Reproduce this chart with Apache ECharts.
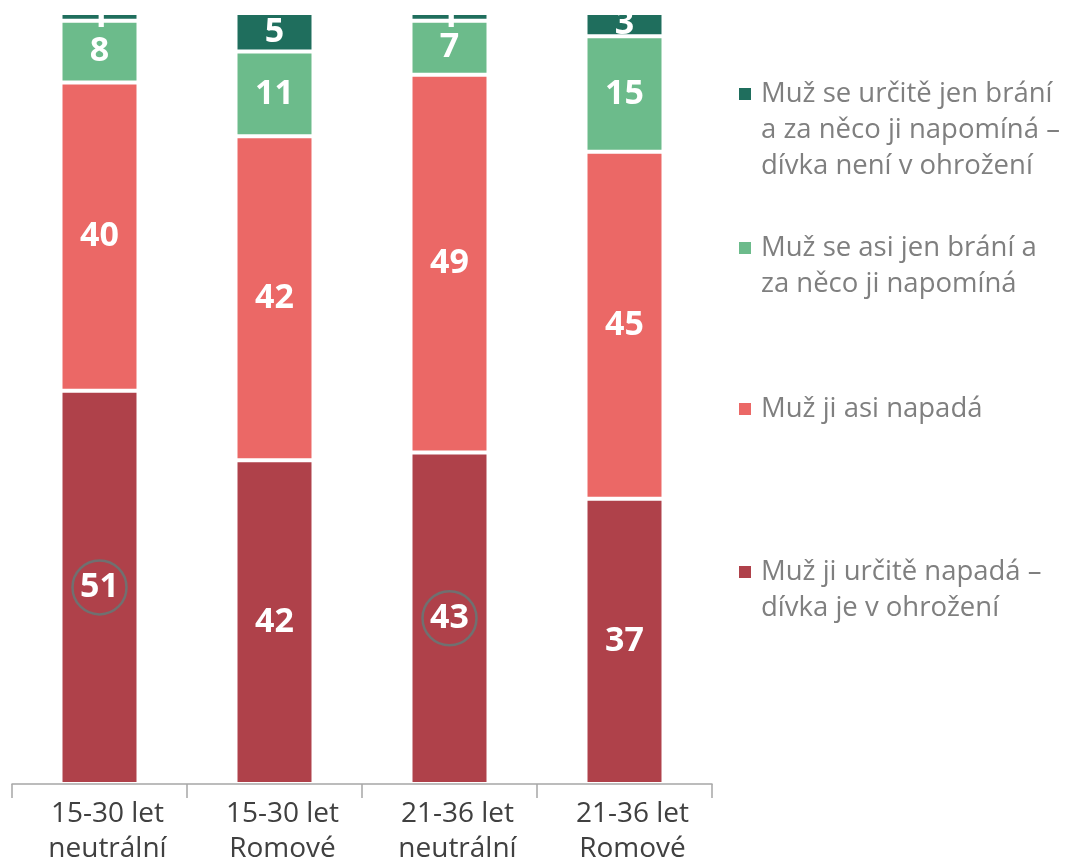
<!DOCTYPE html>
<html>
<head>
<meta charset="utf-8">
<script src="https://cdn.jsdelivr.net/npm/echarts@6/dist/echarts.min.js"></script>
<style>
  html, body { margin: 0; padding: 0; background: #fff; }
  #chart { width: 1065px; height: 860px; }
</style>
</head>
<body>
<div id="chart"></div>
<script>
// categories (x axis)
const categories = ['15-30 let\nneutrální', '15-30 let\nRomové', '21-36 let\nneutrální', '21-36 let\nRomové']

// series, bottom to top of the stack
const seriesNames = [
  'Muž ji určitě napadá – dívka je v ohrožení',
  'Muž ji asi napadá',
  'Muž se asi jen brání a za něco ji napomíná',
  'Muž se určitě jen brání a za něco ji napomíná – dívka není v ohrožení'
]
const jistePadani = [51, 42, 43, 37]
const asiPadani = [40, 42, 49, 45]
const asiBrani = [8, 11, 7, 15]
const jisteBrani = [1, 5, 1, 3]

// legend text as broken in the picture
const legendLabels = {
  'Muž se určitě jen brání a za něco ji napomíná – dívka není v ohrožení': 'Muž se určitě jen brání\na za něco ji napomíná –\ndívka není v ohrožení',
  'Muž se asi jen brání a za něco ji napomíná': 'Muž se asi jen brání a\nza něco ji napomíná',
  'Muž ji asi napadá': 'Muž ji asi napadá',
  'Muž ji určitě napadá – dívka je v ohrožení': 'Muž ji určitě napadá –\ndívka je v ohrožení'
}

// values ringed in the bottom segment
const circled = [true, false, true, false]

const colors = ['#af414a', '#eb6866', '#6cbb8b', '#1f6e5d']
const FONT = '"Open Sans", "Noto Sans", sans-serif'

const chart = echarts.init(document.getElementById('chart'))

const values = [jistePadani, asiPadani, asiBrani, jisteBrani]

const series = seriesNames.map((name, i) => ({
  name,
  type: 'bar',
  stack: 'total',
  barWidth: 78,
  data: values[i],
  itemStyle: { color: colors[i], borderColor: '#fff', borderWidth: 2 },
  label: {
    show: true,
    position: 'inside',
    color: '#fff',
    fontSize: 34,
    fontWeight: 'bold',
    fontFamily: FONT
  },
  emphasis: { disabled: true }
}))

// grey rings around chosen values
series[0].markPoint = {
  symbol: 'circle',
  symbolSize: 54,
  silent: true,
  itemStyle: { color: 'rgba(0,0,0,0)', borderColor: '#707070', borderWidth: 2.5 },
  label: { show: false },
  data: categories
    .map((c, i) => circled[i] ? { coord: [c, jistePadani[i] / 2] } : null)
    .filter(d => d)
}

// legend: one box per item, icon next to the first line
// (empty lines in front keep the first line level with the icon)
const LH = 36
const legendOrder = seriesNames.slice().reverse()
const legendCenters = [94, 248, 409, 572]
const legend = legendOrder.map((name, i) => {
  const lines = legendLabels[name].split('\n').length
  const boxH = (2 * lines - 1) * LH
  return {
    data: [name],
    orient: 'vertical',
    left: 737,
    top: legendCenters[i] - boxH / 2,
    padding: 0,
    itemWidth: 14,
    itemHeight: 14,
    icon: 'rect',
    selectedMode: false,
    formatter: n => '\n'.repeat(lines - 1) + legendLabels[n],
    textStyle: {
      fontSize: 27.5,
      fontFamily: FONT,
      color: '#7f7f7f',
      lineHeight: LH,
      padding: [0, 0, 0, 4]
    }
  }
})

const option = {
  animation: false,
  backgroundColor: '#fff',
  legend,
  grid: { left: 12, right: 353, top: 13, bottom: 76, containLabel: false, outerBoundsMode: 'none' },
  xAxis: {
    type: 'category',
    data: categories,
    z: 5,
    axisLine: { lineStyle: { color: '#a6a6a6', width: 1.5 } },
    axisTick: { show: true, length: 14, lineStyle: { color: '#a6a6a6', width: 1.5 } },
    axisLabel: {
      margin: 13,
      fontSize: 28,
      fontFamily: FONT,
      color: '#404040',
      lineHeight: 35,
      padding: [0, 0, 0, 16]
    }
  },
  yAxis: {
    type: 'value',
    min: 0,
    max: 100,
    show: false,
    splitLine: { show: false }
  },
  series
}

chart.setOption(option)
</script>
</body>
</html>
